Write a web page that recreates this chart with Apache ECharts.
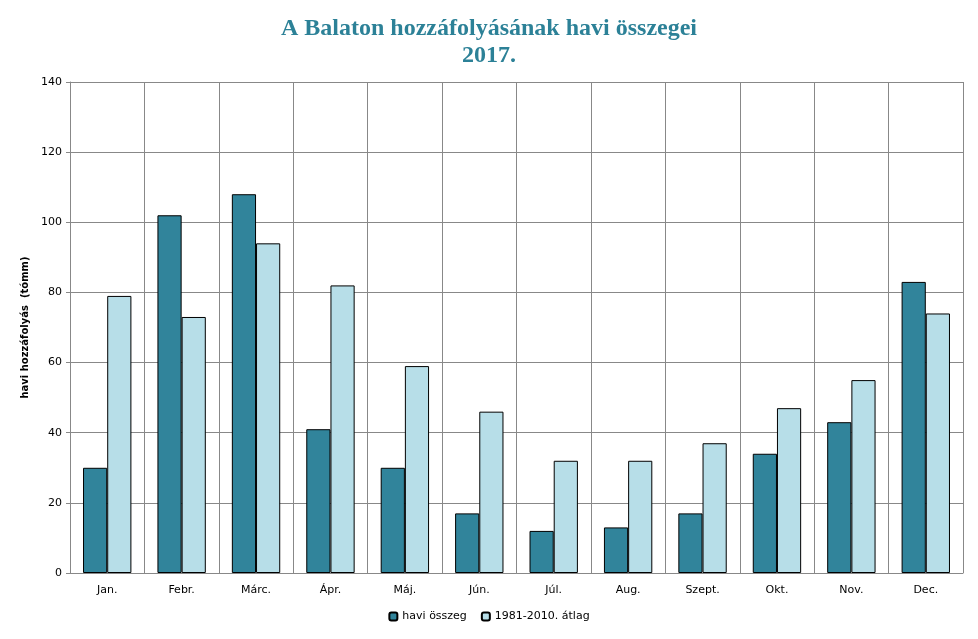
<!DOCTYPE html>
<html>
<head>
<meta charset="utf-8">
<script src="https://cdn.jsdelivr.net/npm/echarts@6/dist/echarts.min.js"></script>
</head>
<body style="margin:0;background:#fff">
<div id="chart" style="width:978px;height:639px;"></div>
<script type="text/javascript">
var months = ['Jan.', 'Febr.', 'Márc.', 'Ápr.', 'Máj.', 'Jún.', 'Júl.', 'Aug.', 'Szept.', 'Okt.', 'Nov.', 'Dec.'];
var haviOsszeg = [30, 102, 108, 41, 30, 17, 12, 13, 17, 34, 43, 83];
var atlag = [79, 73, 94, 82, 59, 46, 32, 32, 37, 47, 55, 74];

var myChart = echarts.init(document.getElementById('chart'));
var option = {
    animation: false,
    title: {
        text: 'A Balaton hozzáfolyásának havi összegei\n2017.',
        left: 'center',
        top: 10,
        textStyle: {
            fontFamily: 'Liberation Serif',
            fontWeight: 'bold',
            fontSize: 24,
            lineHeight: 27,
            color: '#2c8197'
        }
    },
    legend: {
        bottom: 12,
        left: 'center',
        itemWidth: 8,
        itemHeight: 8,
        itemGap: 14,
        textStyle: { fontFamily: 'DejaVu Sans', fontSize: 11, color: '#000' },
        data: ['havi összeg', '1981-2010. átlag']
    },
    grid: { left: 70, right: 15, top: 82, bottom: 66 },
    xAxis: {
        type: 'category',
        data: months,
        axisLine: { lineStyle: { color: '#888' } },
        axisTick: { show: false },
        splitLine: { show: true, lineStyle: { color: '#888' } },
        axisLabel: { fontFamily: 'DejaVu Sans', fontSize: 11, color: '#000', margin: 12 }
    },
    yAxis: {
        type: 'value',
        min: 0,
        max: 140,
        interval: 20,
        name: 'havi hozzáfolyás  (tómm)',
        nameLocation: 'middle',
        nameGap: 40,
        nameTextStyle: { fontFamily: 'DejaVu Sans', fontSize: 10, fontWeight: 'bold', color: '#000' },
        axisLine: { show: true, lineStyle: { color: '#888' } },
        axisTick: { show: true, length: 4, lineStyle: { color: '#888' } },
        splitLine: { lineStyle: { color: '#888' } },
        axisLabel: { fontFamily: 'DejaVu Sans', fontSize: 11, color: '#000' }
    },
    series: [
        {
            name: 'havi összeg',
            type: 'bar',
            data: haviOsszeg,
            barGap: 0,
            barCategoryGap: '35%',
            itemStyle: { color: '#31849b', borderColor: '#000', borderWidth: 1 }
        },
        {
            name: '1981-2010. átlag',
            type: 'bar',
            data: atlag,
            itemStyle: { color: '#b7dee8', borderColor: '#000', borderWidth: 1 }
        }
    ]
};
myChart.setOption(option);
</script>
</body>
</html>
